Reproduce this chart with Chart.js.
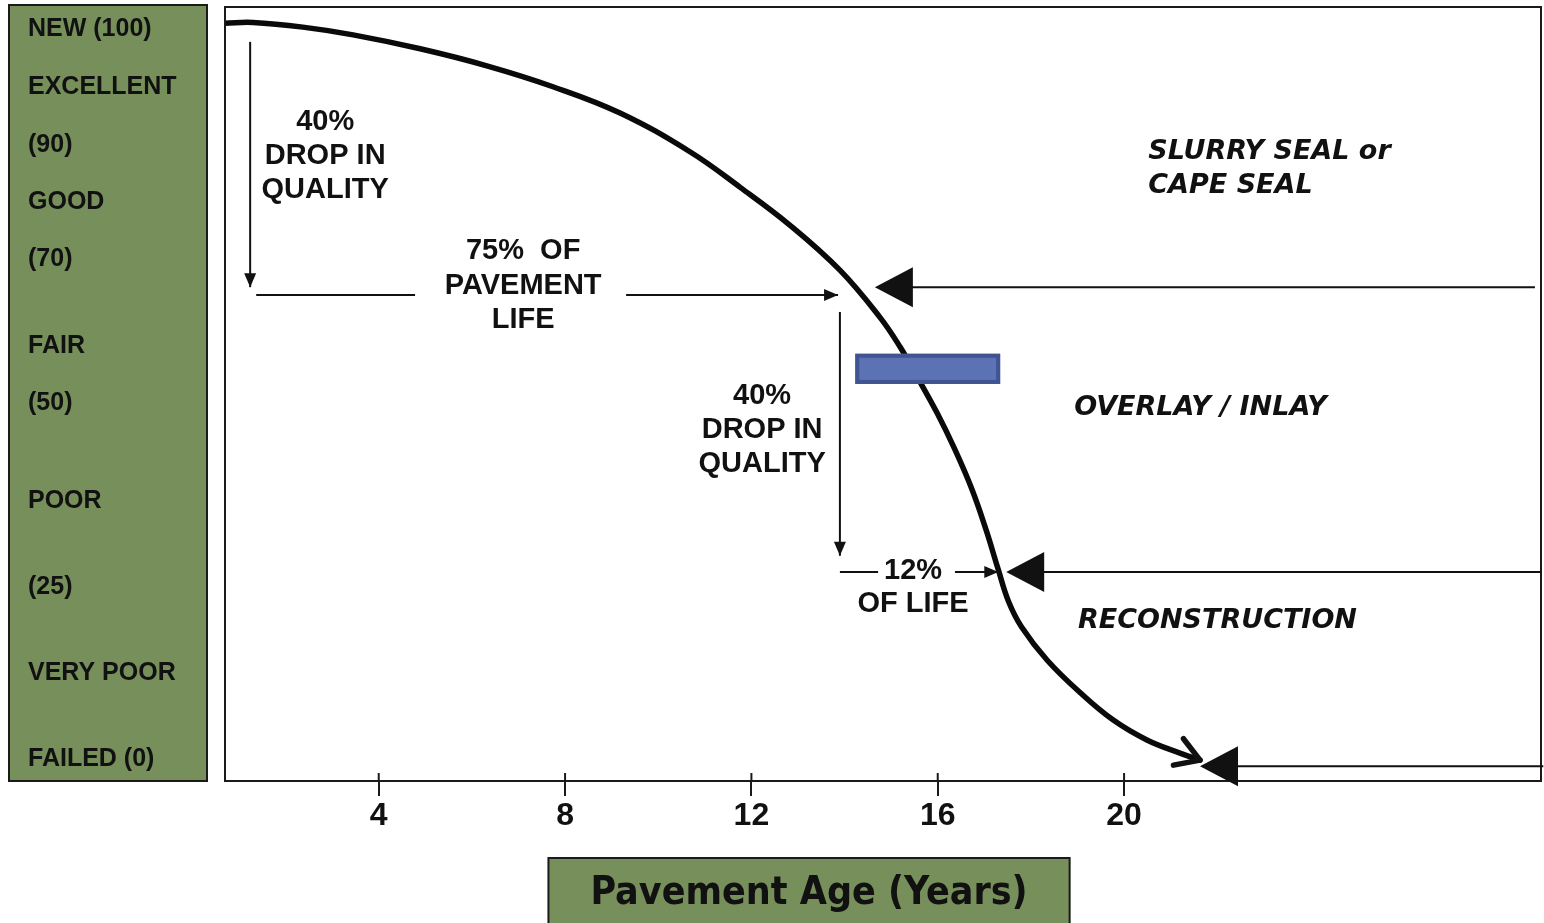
<!DOCTYPE html>
<html>
<head>
<meta charset="utf-8">
<title>Pavement Condition vs Age</title>
<script src="https://cdn.jsdelivr.net/npm/chart.js@4"></script>
<style>
  html, body { margin: 0; padding: 0; background: #fff; }
  canvas { display: block; }
</style>
</head>
<body>
<canvas id="curva" width="1544" height="923"></canvas>
<script>
// Curva: edad (anios) y condicion (0-100)
const ageYears = [0.70, 1.30, 2.37, 3.45, 4.89, 6.32, 7.74, 9.18, 10.68, 11.76, 12.83, 13.90, 14.76, 15.19, 15.56, 15.99, 16.37, 16.74, 17.04, 17.30, 17.52, 17.80, 18.35, 19.06, 19.76, 20.49, 21.20, 21.63];
const conditionIndex = [97.9, 98.0, 97.4, 96.4, 94.6, 92.4, 89.7, 86.3, 81.3, 76.7, 71.8, 66.0, 59.9, 56.1, 52.2, 47.5, 42.8, 37.6, 32.4, 27.3, 23.2, 19.9, 15.6, 11.4, 7.9, 5.3, 3.6, 2.7];

// ticks del eje x
const ageTicks = [4, 8, 12, 16, 20];

// etiquetas del panel izquierdo (arriba hacia abajo) y el nivel donde van
const ratingLabels = ['NEW (100)', 'EXCELLENT', '(90)', 'GOOD', '(70)', 'FAIR', '(50)', 'POOR', '(25)', 'VERY POOR', 'FAILED (0)'];
const ratingLevels = [97.2, 89.7, 82.2, 74.8, 67.4, 56.2, 48.8, 36.2, 25.1, 14.0, 2.8];

const axisTitle = 'Pavement Age (Years)';

// flechas finas [edad, condicion]
const guideLines = [
  { from: [1.24, 95.5], to: [1.24, 63.8], head: true },
  { from: [1.37, 62.8], to: [4.78, 62.8], head: false },
  { from: [9.31, 62.8], to: [13.86, 62.8], head: true },
  { from: [13.90, 60.6], to: [13.90, 29.1], head: true },
  { from: [13.90, 27.0], to: [14.72, 27.0], head: false },
  { from: [16.37, 27.0], to: [17.30, 27.0], head: true }
];

// triangulos grandes que apuntan a la curva, con linea hasta el borde derecho
const triggerMarks = [
  { tip: [14.65, 63.8], end: 28.82 },
  { tip: [17.47, 27.0], end: 28.95 },
  { tip: [21.63, 1.9], end: 29.0 }
];

// textos centrados de las flechas
const noteLines = [
  { text: '40%', x: 2.85, y: 85.1 },
  { text: 'DROP IN', x: 2.85, y: 80.7 },
  { text: 'QUALITY', x: 2.85, y: 76.4 },
  { text: '75%  OF', x: 7.10, y: 68.5 },
  { text: 'PAVEMENT', x: 7.10, y: 64.0 },
  { text: 'LIFE', x: 7.10, y: 59.6 },
  { text: '40%', x: 12.23, y: 49.7 },
  { text: 'DROP IN', x: 12.23, y: 45.3 },
  { text: 'QUALITY', x: 12.23, y: 41.0 },
  { text: '12%', x: 15.47, y: 27.1 },
  { text: 'OF LIFE', x: 15.47, y: 22.9 }
];

// tratamientos (alineados a la izquierda)
const treatmentLabels = [
  { text: 'SLURRY SEAL or', x: 20.52, y: 81.3 },
  { text: 'CAPE SEAL', x: 20.52, y: 76.9 },
  { text: 'OVERLAY / INLAY', x: 18.93, y: 48.2 },
  { text: 'RECONSTRUCTION', x: 19.01, y: 20.7 }
];

// ventana optima (rectangulo azul)
const windowBox = { x0: 14.23, x1: 17.34, yTop: 55.2, yBottom: 51.3 };

const VERDE = '#778f5a';
const NEGRO = '#111';
const FUENTE_NOTA = 'bold 29px "Liberation Sans", Arial, sans-serif';
const FUENTE_TRAT = 'italic bold 27px "DejaVu Sans", Verdana, sans-serif';
const FUENTE_TITULO = 'bold 39px "DejaVu Sans Condensed", "DejaVu Sans", sans-serif';

let flechita = (ctx, x0, y0, x1, y1, largo, ancho) => {
  let ang = Math.atan2(y1 - y0, x1 - x0);
  ctx.beginPath();
  ctx.moveTo(x1, y1);
  ctx.lineTo(x1 - largo * Math.cos(ang) + ancho * Math.sin(ang), y1 - largo * Math.sin(ang) - ancho * Math.cos(ang));
  ctx.lineTo(x1 - largo * Math.cos(ang) - ancho * Math.sin(ang), y1 - largo * Math.sin(ang) + ancho * Math.cos(ang));
  ctx.closePath();
  ctx.fill();
};

const decoraciones = {
  id: 'decoraciones',
  beforeDraw(chart) {
    const ctx = chart.ctx;
    const area = chart.chartArea;
    ctx.save();
    ctx.fillStyle = '#fff';
    ctx.fillRect(0, 0, chart.width, chart.height);

    // panel verde de la izquierda
    let px = 9, pw = area.left - 18 - px;
    ctx.fillStyle = VERDE;
    ctx.fillRect(px, area.top - 2, pw, area.bottom - area.top + 2);
    ctx.strokeStyle = '#1a1a1a';
    ctx.lineWidth = 2;
    ctx.strokeRect(px, area.top - 2, pw, area.bottom - area.top + 2);

    // caja del titulo del eje x
    ctx.font = FUENTE_TITULO;
    let ancho = ctx.measureText(axisTitle).width;
    let cx = area.left + (area.right - area.left) * 0.4438;
    let bx = cx - ancho / 2 - 42;
    let by = area.bottom + 77;
    ctx.fillStyle = VERDE;
    ctx.fillRect(bx, by, ancho + 84, chart.height - by + 4);
    ctx.strokeRect(bx, by, ancho + 84, chart.height - by + 4);
    ctx.fillStyle = NEGRO;
    ctx.textAlign = 'center';
    ctx.textBaseline = 'middle';
    ctx.fillText(axisTitle, cx, by + 36);
    ctx.restore();
  },
  afterDatasetsDraw(chart) {
    const ctx = chart.ctx;
    const area = chart.chartArea;
    const xs = chart.scales.x;
    const ys = chart.scales.y;
    ctx.save();

    // marco del area de grafico
    ctx.strokeStyle = '#1a1a1a';
    ctx.lineWidth = 2;
    ctx.strokeRect(area.left, area.top, area.right - area.left, area.bottom - area.top);
    // parte de los ticks que sube sobre el eje
    ageTicks.forEach(t => {
      let x = xs.getPixelForValue(t);
      ctx.beginPath();
      ctx.moveTo(x, area.bottom - 8);
      ctx.lineTo(x, area.bottom);
      ctx.stroke();
    });

    // rectangulo azul
    let rx = xs.getPixelForValue(windowBox.x0);
    let ry = ys.getPixelForValue(windowBox.yTop);
    let rw = xs.getPixelForValue(windowBox.x1) - rx;
    let rh = ys.getPixelForValue(windowBox.yBottom) - ry;
    ctx.fillStyle = '#5b73b4';
    ctx.fillRect(rx, ry, rw, rh);
    ctx.strokeStyle = '#3f5490';
    ctx.lineWidth = 4;
    ctx.strokeRect(rx + 2, ry + 2, rw - 4, rh - 4);

    // flechas finas
    ctx.strokeStyle = NEGRO;
    ctx.fillStyle = NEGRO;
    ctx.lineWidth = 2;
    guideLines.forEach(g => {
      let x0 = xs.getPixelForValue(g.from[0]), y0 = ys.getPixelForValue(g.from[1]);
      let x1 = xs.getPixelForValue(g.to[0]), y1 = ys.getPixelForValue(g.to[1]);
      ctx.beginPath();
      ctx.moveTo(x0, y0);
      ctx.lineTo(x1, y1);
      ctx.stroke();
      if (g.head) flechita(ctx, x0, y0, x1, y1, 14, 6);
    });

    // triangulos grandes + linea al borde
    triggerMarks.forEach(m => {
      let tx = xs.getPixelForValue(m.tip[0]), ty = ys.getPixelForValue(m.tip[1]);
      let ex = xs.getPixelForValue(m.end);
      ctx.beginPath();
      ctx.moveTo(tx + 30, ty);
      ctx.lineTo(ex, ty);
      ctx.stroke();
      flechita(ctx, tx + 60, ty, tx, ty, 38, 20);
    });

    // punta de flecha al final de la curva
    const pts = chart.getDatasetMeta(0).data;
    let fin = pts[pts.length - 1], prev = pts[pts.length - 3];
    let ang = Math.atan2(fin.y - prev.y, fin.x - prev.x);
    ctx.lineWidth = 5.5;
    ctx.lineCap = 'round';
    ctx.beginPath();
    [-0.55, 0.55].forEach(d => {
      ctx.moveTo(fin.x, fin.y);
      ctx.lineTo(fin.x - 27 * Math.cos(ang + d), fin.y - 27 * Math.sin(ang + d));
    });
    ctx.stroke();

    // textos
    ctx.fillStyle = NEGRO;
    ctx.textBaseline = 'middle';
    ctx.font = FUENTE_NOTA;
    ctx.textAlign = 'center';
    noteLines.forEach(n => {
      ctx.fillText(n.text, xs.getPixelForValue(n.x), ys.getPixelForValue(n.y));
    });
    ctx.font = FUENTE_TRAT;
    ctx.textAlign = 'left';
    treatmentLabels.forEach(n => {
      ctx.fillText(n.text, xs.getPixelForValue(n.x), ys.getPixelForValue(n.y));
    });
    ctx.restore();
  }
};

new Chart(document.getElementById('curva'), {
  type: 'line',
  data: {
    datasets: [{
      data: ageYears.map((x, i) => ({ x: x, y: conditionIndex[i] })),
      borderColor: '#0a0a0a',
      borderWidth: 5.5,
      pointRadius: 0,
      fill: false,
      tension: 0.4,
      borderCapStyle: 'round',
      borderJoinStyle: 'round'
    }]
  },
  options: {
    responsive: false,
    animation: false,
    layout: { padding: { left: 28, top: 7, right: 3, bottom: 0 } },
    plugins: {
      legend: { display: false },
      tooltip: { enabled: false }
    },
    scales: {
      x: {
        type: 'linear',
        min: 0.7,
        max: 28.95,
        afterBuildTicks: ax => { ax.ticks = ageTicks.map(v => ({ value: v })); },
        afterFit: ax => { ax.height = 142; ax.paddingLeft = 0; ax.paddingRight = 0; },
        grid: { drawOnChartArea: false, drawTicks: true, tickLength: 15, color: '#1a1a1a', lineWidth: 2 },
        border: { display: false },
        ticks: {
          padding: 1,
          autoSkip: false,
          maxRotation: 0,
          color: NEGRO,
          font: { family: '"Liberation Sans Narrow", "Liberation Sans", Arial', size: 32, weight: 'bold' }
        }
      },
      y: {
        min: 0,
        max: 100,
        afterBuildTicks: ax => {
          ax.ticks = ratingLevels.slice().sort((a, b) => a - b).map(v => ({ value: v }));
        },
        afterFit: ax => { ax.width = 197; ax.paddingTop = 0; ax.paddingBottom = 0; },
        grid: { display: false },
        border: { display: false },
        ticks: {
          crossAlign: 'far',
          padding: 0,
          autoSkip: false,
          color: NEGRO,
          font: { family: '"Liberation Sans", Arial', size: 25, weight: 'bold' },
          callback: v => ratingLabels[ratingLevels.indexOf(v)]
        }
      }
    }
  },
  plugins: [decoraciones]
});
</script>
</body>
</html>
